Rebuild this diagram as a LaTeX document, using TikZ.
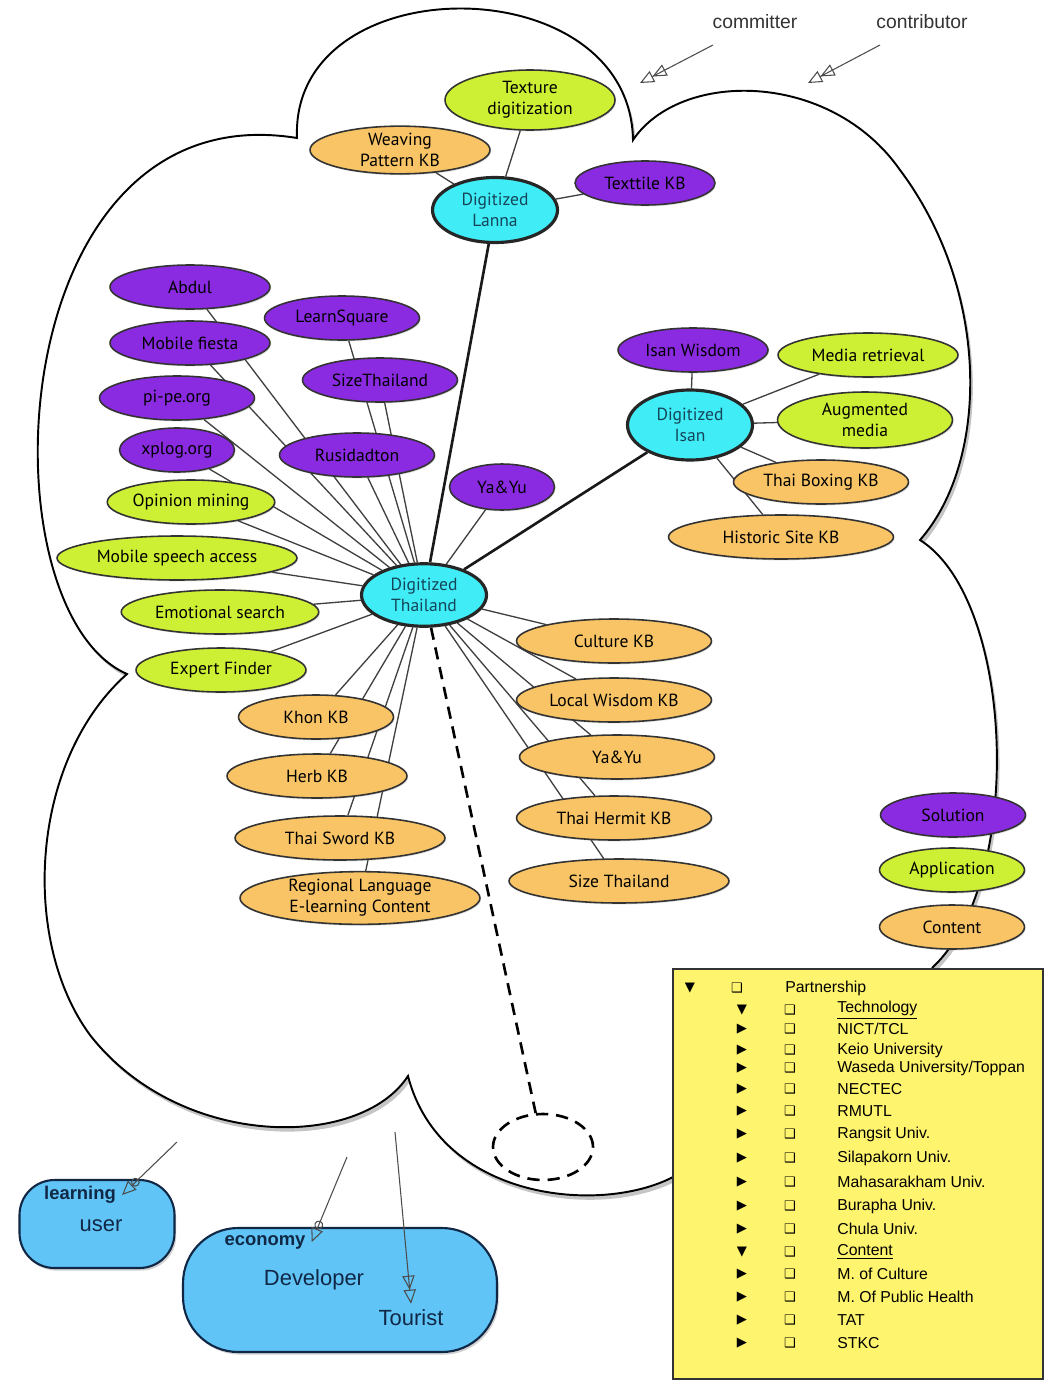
\documentclass[tikz,border=0pt]{standalone}
\usepackage{fontspec}
\setmainfont{Liberation Sans}
\newfontfamily\nodefont{PT Sans}
\newfontfamily\symfont{DejaVu Sans}
\usetikzlibrary{shapes.geometric,arrows.meta,shadows}

\definecolor{solpurple}{RGB}{138,43,226}
\definecolor{applime}{RGB}{206,240,52}
\definecolor{kborange}{RGB}{248,196,102}
\definecolor{hubcyan}{RGB}{64,236,246}
\definecolor{hubtext}{RGB}{20,70,90}
\definecolor{userblue}{RGB}{96,196,246}
\definecolor{usertext}{RGB}{16,40,70}
\definecolor{noteyellow}{RGB}{255,244,110}

\pgfdeclarelayer{cloudlayer}
\pgfdeclarelayer{edgelayer}
\pgfsetlayers{cloudlayer,edgelayer,main}

\tikzset{
	blob/.style={ellipse, draw=black!80, line width=0.9pt, inner sep=0pt, align=center,
		minimum height=0.88cm, font=\nodefont\fontsize{10}{12}\selectfont,
		drop shadow={opacity=0.25, shadow xshift=0.6pt, shadow yshift=-0.8pt}},
	sol/.style={blob, fill=solpurple},
	app/.style={blob, fill=applime},
	kb/.style={blob, fill=kborange},
	hub/.style={blob, fill=hubcyan, line width=1.8pt, draw=black!85, text=hubtext, minimum width=2.5cm, minimum height=1.3cm},
	spoke/.style={draw=black!75, line width=0.75pt},
	trunk/.style={draw=black!90, line width=1.5pt},
	cloudline/.style={draw=black, line width=1.1pt, fill=white,
		drop shadow={opacity=0.45, shadow xshift=1.5pt, shadow yshift=-2.5pt}},
	role/.style={font=\fontsize{11}{13}\selectfont, text=black!80},
	dblopen/.style={draw=black!70, line width=0.6pt, -{Triangle[open,length=8pt,width=7pt]Triangle[open,length=8pt,width=7pt]}},
	dotopen/.style={draw=black!70, line width=0.6pt, -{Circle[open,length=5pt]Triangle[open,length=8pt,width=7pt]}},
	userbox/.style={draw=usertext, line width=1.2pt, fill=userblue,
		drop shadow={opacity=0.35, shadow xshift=1pt, shadow yshift=-1.5pt}},
	tag/.style={font=\bfseries\fontsize{10.5}{12}\selectfont, text=usertext},
	who/.style={font=\fontsize{12.5}{14}\selectfont, text=usertext},
	notebox/.style={draw=black!80, line width=1.1pt, fill=noteyellow},
	item/.style={anchor=west, inner sep=0pt, font=\fontsize{9}{10}\selectfont},
	bullet/.style={inner sep=0pt, font=\symfont\fontsize{7.5}{9}\selectfont}
}

\begin{document}
\begin{tikzpicture}[x=0.02cm, y=-0.02cm]
			\useasboundingbox (0,0) rectangle (1047,1383);

			\begin{pgfonlayer}{cloudlayer}
			\fill[white] (0,0) rectangle (1047,1383);
			\draw[cloudline] (297,138) .. controls (290,-35) and (630,-35) .. (633,140)
				.. controls (680,70) and (830,70) .. (900,170)
				.. controls (990,290) and (990,460) .. (920,540)
				.. controls (1015,600) and (1025,880) .. (933,967)
				.. controls (880,1050) and (760,1150) .. (673,1177)
				.. controls (600,1215) and (440,1200) .. (408,1076)
				.. controls (360,1150) and (180,1150) .. (90,1035)
				.. controls (20,940) and (30,760) .. (127,674)
				.. controls (-20,610) and (0,90) .. cycle;
			\end{pgfonlayer}

			\node[role] (committer) at (755,22) {committer};
			\node[role] (contributor) at (922,22) {contributor};
			\coordinate (cmtail) at (713,45);
			\coordinate (cmtip) at (640,83);
			\coordinate (cbtail) at (880,45);
			\coordinate (cbtip) at (808,83);
			\draw[dblopen] (cmtail) -- (cmtip);
			\draw[dblopen] (cbtail) -- (cbtip);

			\node[app, minimum width=3.4cm, minimum height=1.2cm] (texdig) at (530,100) {Texture\\digitization};
			\node[kb, minimum width=3.6cm] (weave) at (400,150) {Weaving\\Pattern KB};
			\node[hub] (lanna) at (495,210) {Digitized\\Lanna};
			\node[sol, minimum width=2.8cm] (textile) at (645,183) {Texttile KB};

			\node[sol, minimum width=3.2cm] (abdul) at (190,287) {Abdul};
			\node[sol, minimum width=3.1cm] (learnsq) at (342,318) {LearnSquare};
			\node[sol, minimum width=3.2cm] (mfiesta) at (190,343) {Mobile fiesta};
			\node[sol, minimum width=3.1cm] (sizeth) at (380,380) {SizeThailand};
			\node[sol, minimum width=3.1cm] (pipe) at (177,398) {pi-pe.org};
			\node[sol, minimum width=2.3cm] (xplog) at (177,450) {xplog.org};
			\node[sol, minimum width=3.1cm] (rusi) at (357,455) {Rusidadton};
			\node[sol, minimum width=2.1cm, minimum height=0.92cm] (yayu) at (502,487) {Ya\&Yu};
			\node[app, minimum width=3.35cm] (opinion) at (191,502) {Opinion mining};
			\node[app, minimum width=4.8cm] (mspeech) at (177,558) {Mobile speech access};
			\node[app, minimum width=3.95cm] (emosearch) at (220,612) {Emotional search};
			\node[app, minimum width=3.4cm] (expert) at (221,670) {Expert Finder};

			\node[hub, minimum height=1.25cm] (thai) at (424,595) {Digitized\\Thailand};

			\node[kb, minimum width=3.1cm] (khon) at (316,717) {Khon KB};
			\node[kb, minimum width=3.6cm] (herb) at (317,776) {Herb KB};
			\node[kb, minimum width=4.2cm] (sword) at (340,838) {Thai Sword KB};
			\node[kb, minimum width=4.8cm] (regional) at (360,898) {Regional Language\\E-learning Content};
			\node[kb, minimum width=3.9cm] (culture) at (614,641) {Culture KB};
			\node[kb, minimum width=3.9cm] (localw) at (614,700) {Local Wisdom KB};
			\node[kb, minimum width=3.9cm] (yayukb) at (617,757) {Ya\&Yu};
			\node[kb, minimum width=3.9cm] (hermit) at (614,818) {Thai Hermit KB};
			\node[kb, minimum width=4.4cm] (sizekb) at (619,881) {Size Thailand};

			\node[sol, minimum width=3.0cm] (isanw) at (693,350) {Isan Wisdom};
			\node[app, minimum width=3.6cm] (media) at (868,355) {Media retrieval};
			\node[hub, minimum height=1.4cm] (isan) at (690,425) {Digitized\\Isan};
			\node[app, minimum width=3.5cm, minimum height=1.12cm] (augm) at (865,420) {Augmented\\media};
			\node[kb, minimum width=3.5cm] (boxing) at (821,482) {Thai Boxing KB};
			\node[kb, minimum width=4.5cm] (historic) at (781,537) {Historic Site KB};

			\node[ellipse, draw, line width=1.5pt, dash pattern=on 7pt off 4.5pt, minimum width=2cm, minimum height=1.32cm] (future) at (543,1147) {};

			\begin{pgfonlayer}{edgelayer}
			\foreach \n in {texdig,weave,textile}
				\draw[spoke] (lanna) -- (\n);
			\foreach \n in {isanw,media,augm,boxing,historic}
				\draw[spoke] (isan) -- (\n);
			\foreach \n in {abdul,learnsq,mfiesta,sizeth,pipe,xplog,rusi,yayu,opinion,mspeech,emosearch,expert,khon,herb,sword,regional,culture,localw,yayukb,hermit,sizekb}
				\draw[spoke] (thai) -- (\n);
			\draw[trunk] (thai) -- (lanna);
			\draw[trunk] (thai) -- (isan);
			\draw[line width=1.5pt, dash pattern=on 7pt off 4.5pt] (thai) -- (future);
			\end{pgfonlayer}

			\node[sol, minimum width=2.9cm] (lsol) at (953,815) {Solution};
			\node[app, minimum width=2.9cm] (lapp) at (952,870) {Application};
			\node[kb, minimum width=2.9cm] (lcon) at (952,927) {Content};

			\node[userbox, rounded corners=0.7cm, minimum width=3.1cm, minimum height=1.76cm] (learnbox) at (97,1224) {};
			\node[userbox, rounded corners=1.1cm, minimum width=6.28cm, minimum height=2.48cm] (econbox) at (340,1290) {};
			\node[tag] (learning) at (80,1195) {learning};
			\node[who] (user) at (101,1226) {user};
			\node[tag] (economy) at (265,1242) {economy};
			\node[who] (developer) at (314,1280) {Developer};
			\node[who] (tourist) at (411,1318) {Tourist};
			\coordinate (lrtail) at (177,1142);
			\coordinate (ectail) at (347,1157);
			\coordinate (totail) at (395,1132);
			\draw[dotopen] (lrtail) -- (learning.east);
			\draw[dotopen] (ectail) -- (economy.east);
			\draw[dblopen] (totail) -- (tourist.north);

			\node[notebox, minimum width=7.4cm, minimum height=8.2cm] (partners) at (858,1174) {};
			\node[bullet] (m0) at (690,988) {▼};
			\node[bullet] (b0) at (737,988) {❑};
			\node[item] (t0) at (785,988) {Partnership};
			\foreach \y/\tri/\txt in {1010/▼/\underline{Technology}, 1029/▶/NICT\slash TCL, 1050/▶/Keio University,
				1068/▶/Waseda University\slash Toppan, 1089/▶/NECTEC, 1111/▶/RMUTL, 1134/▶/Rangsit Univ.,
				1158/▶/Silapakorn Univ., 1182/▶/Mahasarakham Univ., 1206/▶/Burapha Univ., 1229/▶/Chula Univ.,
				1252/▼/\underline{Content}, 1274/▶/M. of Culture, 1297/▶/M. Of Public Health, 1320/▶/TAT, 1343/▶/STKC}{
				\node[bullet] at (742,\y) {\tri};
				\node[bullet] at (790,\y) {❑};
				\node[item] at (837,\y) {\txt};
			}
\end{tikzpicture}
\end{document}
